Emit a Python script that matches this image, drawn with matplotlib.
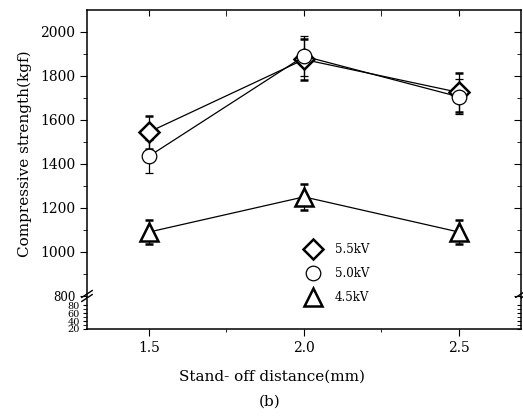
import numpy as np
import matplotlib.pyplot as plt
from matplotlib.lines import Line2D

plt.rcParams['font.family'] = 'DejaVu Serif'

# Datos
distance = np.array([1.5, 2.0, 2.5])
s55 = np.array([1545, 1875, 1725])
e55 = np.array([75, 95, 90])
s50 = np.array([1435, 1890, 1705])
e50 = np.array([75, 90, 80])
s45 = np.array([1090, 1250, 1090])
e45 = np.array([53, 60, 53])
labels = ['5.5kV', '5.0kV', '4.5kV']

W, H = 523, 416
fig = plt.figure(figsize=(W / 100, H / 100), dpi=100)

left, right = 87 / W, 521 / W
top_px, brk_px, bot_px = 10, 298, 329
ax = fig.add_axes([left, 1 - brk_px / H, right - left, (brk_px - top_px) / H])
axb = fig.add_axes([left, 1 - bot_px / H, right - left, (bot_px - brk_px) / H], sharex=ax)

# series
styles = [
    dict(marker='D', ms=10, mew=1.8),
    dict(marker='o', ms=10.5, mew=0.9),
    dict(marker='^', ms=13, mew=1.8),
]
for y, e, st in zip([s55, s50, s45], [e55, e50, e45], styles):
    ax.errorbar(distance, y, yerr=e, color='black', lw=0.9, elinewidth=0.9,
                capsize=3, capthick=0.9, mfc='white', mec='black', zorder=3, **st)

ax.set_xlim(1.3, 2.7)
ax.set_ylim(790, 2100)
axb.set_ylim(20, 98)

ax.set_yticks(np.arange(800, 2001, 200))
ax.set_yticks(np.arange(900, 2100, 100), minor=True)
ax.set_xticks([1.5, 2.0, 2.5])
ax.set_xticks([1.75, 2.25], minor=True)
axb.set_yticks([20, 40, 60, 80])
axb.set_yticks([30, 50, 70], minor=True)

for a in (ax, axb):
    for s in a.spines.values():
        s.set_linewidth(1.1)
ax.spines['bottom'].set_visible(False)
axb.spines['top'].set_visible(False)

ax.tick_params(axis='x', which='both', bottom=False, labelbottom=False, top=True,
               direction='in', length=4)
ax.tick_params(axis='y', which='major', left=True, right=True, length=5, labelsize=10)
ax.tick_params(axis='y', which='minor', left=True, right=True, length=3)
for a in (ax, axb):
    a.yaxis.set_tick_params(which='both', direction='out')
ax.tick_params(axis='y', which='both', right=True)
axb.tick_params(axis='y', which='both', left=True, right=True, length=3, labelsize=7,
                pad=2)
axb.tick_params(axis='x', which='major', direction='out', length=5, labelsize=10, top=False)
axb.tick_params(axis='x', which='minor', direction='out', length=2, top=False)
# right side ticks inward
for a in (ax, axb):
    for t in a.yaxis.get_major_ticks() + a.yaxis.get_minor_ticks():
        t.tick2line.set_marker(0)
ax.get_yticklabels()[0].set_fontsize(8.5)

ax.set_ylabel('Compressive strength(kgf)', fontsize=11, labelpad=6)
axb.set_xlabel('Stand- off distance(mm)', fontsize=11)
axb.xaxis.set_label_coords((272 - 87) / (521 - 87), -1.3)
fig.text(270 / W, 1 - 402 / H, '(b)', fontsize=11, ha='center', va='center')

# marcas de corte en el eje
for xa in (0, 1):
    for dy in (0, 4):
        ax.plot([xa - 0.012, xa + 0.012], [-0.012 + dy / 288, 0.012 + dy / 288],
                transform=ax.transAxes, color='black', lw=1, clip_on=False)

handles = [Line2D([], [], color='black', linestyle='none', mfc='white', mec='black', **st)
           for st in styles]
fig.legend(handles, labels, loc='upper left', bbox_to_anchor=(305 / W, 1 - 243 / H),
           frameon=False, fontsize=8.5, handlelength=1.4, handletextpad=1.1,
           labelspacing=0.95, borderpad=0, borderaxespad=0)

fig.savefig('out.png', dpi=100)
